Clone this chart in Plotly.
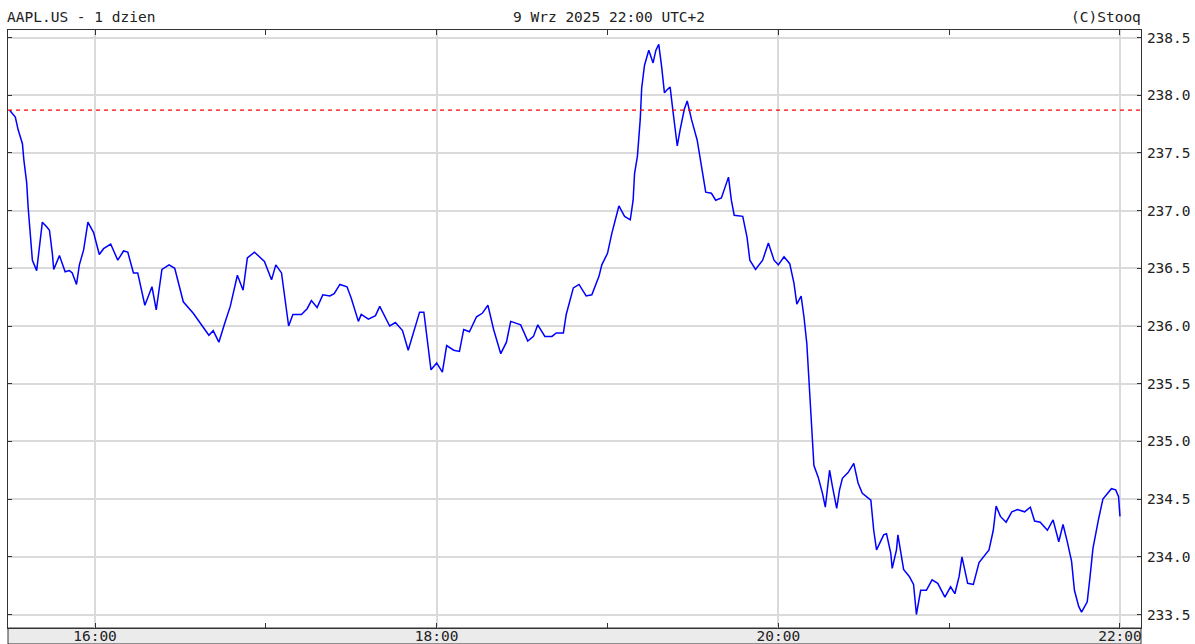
import plotly.graph_objects as go

date = "2025-09-09"
times = [
    "15:30:00", "15:32:00", "15:33:00", "15:34:30", "15:35:00", "15:36:00", "15:36:30", "15:37:00",
    "15:38:00", "15:39:00", "15:39:30", "15:40:30", "15:41:30", "15:43:00", "15:44:00", "15:45:00",
    "15:45:30", "15:47:30", "15:49:30", "15:51:00", "15:52:00", "15:53:30", "15:54:30", "15:56:00",
    "15:57:30", "15:59:30", "16:01:30", "16:03:00", "16:05:30", "16:08:00", "16:10:00", "16:11:30",
    "16:13:30", "16:15:00", "16:17:30", "16:20:00", "16:21:30", "16:23:30", "16:26:00", "16:28:00",
    "16:31:00", "16:34:30", "16:37:00", "16:40:00", "16:41:30", "16:43:30", "16:45:30", "16:47:30",
    "16:50:00", "16:52:00", "16:53:30", "16:56:00", "16:59:30", "17:02:00", "17:03:30", "17:05:30",
    "17:08:00", "17:09:30", "17:12:30", "17:14:30", "17:16:00", "17:18:00", "17:20:00", "17:22:30",
    "17:24:00", "17:26:00", "17:28:30", "17:30:00", "17:32:30", "17:33:30", "17:36:00", "17:38:30",
    "17:40:00", "17:43:30", "17:45:30", "17:48:00", "17:50:00", "17:52:00", "17:54:00", "17:55:30",
    "17:56:30", "17:58:00", "18:00:00", "18:02:00", "18:03:30", "18:06:00", "18:08:00", "18:09:30",
    "18:11:30", "18:14:00", "18:16:00", "18:18:00", "18:20:00", "18:22:30", "18:24:30", "18:26:00",
    "18:29:30", "18:32:00", "18:34:00", "18:35:30", "18:38:00", "18:40:30", "18:42:00", "18:44:30",
    "18:45:30", "18:48:00", "18:50:00", "18:52:30", "18:54:30", "18:57:00", "18:58:00", "19:00:00",
    "19:01:30", "19:02:30", "19:04:00", "19:06:00", "19:08:00", "19:09:00", "19:09:30", "19:10:30",
    "19:11:30", "19:12:00", "19:13:00", "19:14:30", "19:16:00", "19:17:00", "19:18:00", "19:19:00",
    "19:20:00", "19:21:00", "19:22:00", "19:23:00", "19:24:30", "19:25:30", "19:27:00", "19:28:00",
    "19:29:30", "19:31:30", "19:33:00", "19:34:30", "19:36:30", "19:38:00", "19:40:00", "19:42:30",
    "19:43:30", "19:44:30", "19:47:30", "19:49:00", "19:50:00", "19:52:00", "19:54:30", "19:56:30",
    "19:58:30", "20:00:00", "20:02:00", "20:04:00", "20:05:30", "20:06:30", "20:08:00", "20:09:00",
    "20:10:00", "20:11:00", "20:12:00", "20:12:30", "20:14:00", "20:15:30", "20:16:30", "20:18:00",
    "20:19:00", "20:20:30", "20:21:30", "20:22:30", "20:24:30", "20:26:30", "20:28:00", "20:29:30",
    "20:32:30", "20:33:30", "20:34:30", "20:37:00", "20:38:00", "20:39:30", "20:40:00", "20:41:30",
    "20:42:00", "20:44:00", "20:46:00", "20:47:30", "20:48:30", "20:50:00", "20:52:00", "20:54:00",
    "20:56:00", "20:58:30", "21:00:30", "21:02:00", "21:03:30", "21:04:30", "21:06:30", "21:08:30",
    "21:10:30", "21:12:00", "21:14:00", "21:15:30", "21:16:30", "21:18:00", "21:20:00", "21:22:00",
    "21:24:00", "21:26:30", "21:28:30", "21:30:00", "21:32:00", "21:34:30", "21:36:30", "21:38:30",
    "21:40:00", "21:41:30", "21:43:00", "21:44:00", "21:45:30", "21:46:30", "21:48:30", "21:49:30",
    "21:50:30", "21:52:30", "21:54:00", "21:57:00", "21:58:30", "21:59:30", "22:00:00",
]
prices = [
    237.87, 237.81, 237.70, 237.58, 237.44, 237.24, 237.03, 236.86,
    236.57, 236.51, 236.48, 236.69, 236.90, 236.86, 236.83, 236.63,
    236.49, 236.61, 236.47, 236.48, 236.46, 236.36, 236.53, 236.66,
    236.90, 236.81, 236.62, 236.67, 236.71, 236.57, 236.65, 236.64,
    236.46, 236.46, 236.18, 236.34, 236.14, 236.49, 236.53, 236.50,
    236.21, 236.11, 236.02, 235.92, 235.96, 235.86, 236.02, 236.17,
    236.44, 236.31, 236.59, 236.64, 236.56, 236.40, 236.53, 236.46,
    236.00, 236.10, 236.10, 236.15, 236.22, 236.16, 236.27, 236.26,
    236.28, 236.36, 236.34, 236.24, 236.04, 236.10, 236.06, 236.09,
    236.17, 236.00, 236.03, 235.96, 235.79, 235.95, 236.12, 236.12,
    235.91, 235.62, 235.68, 235.60, 235.83, 235.79, 235.78, 235.97,
    235.95, 236.08, 236.11, 236.18, 235.97, 235.76, 235.86, 236.04,
    236.01, 235.87, 235.91, 236.01, 235.91, 235.91, 235.94, 235.94,
    236.10, 236.33, 236.36, 236.26, 236.27, 236.43, 236.53, 236.63,
    236.80, 236.90, 237.04, 236.95, 236.92, 237.09, 237.32, 237.47,
    237.79, 238.06, 238.26, 238.39, 238.28, 238.39, 238.44, 238.25,
    238.02, 238.05, 238.07, 237.86, 237.56, 237.70, 237.88, 237.95,
    237.79, 237.61, 237.38, 237.16, 237.15, 237.09, 237.11, 237.29,
    237.09, 236.96, 236.95, 236.77, 236.57, 236.49, 236.57, 236.72,
    236.57, 236.53, 236.60, 236.54, 236.37, 236.19, 236.26, 236.08,
    235.85, 235.42, 234.95, 234.79, 234.69, 234.55, 234.43, 234.75,
    234.61, 234.42, 234.58, 234.68, 234.73, 234.81, 234.64, 234.55,
    234.49, 234.23, 234.06, 234.19, 234.20, 234.03, 233.90, 234.06,
    234.19, 233.89, 233.83, 233.76, 233.50, 233.71, 233.71, 233.80,
    233.77, 233.65, 233.74, 233.68, 233.83, 234.00, 233.77, 233.76,
    233.95, 234.00, 234.06, 234.23, 234.44, 234.35, 234.30, 234.39,
    234.41, 234.39, 234.43, 234.31, 234.30, 234.23, 234.32, 234.13,
    234.28, 234.13, 233.96, 233.71, 233.57, 233.52, 233.61, 233.83,
    234.07, 234.33, 234.50, 234.59, 234.58, 234.52, 234.35,
]
prev_close = 237.87
y_ticks = [233.5, 234.0, 234.5, 235.0, 235.5, 236.0, 236.5, 237.0, 237.5, 238.0, 238.5]
y_ticktext = [f"{v:.1f}" for v in y_ticks]
title_left = "AAPL.US - 1 dzien"
title_mid = "9 Wrz 2025 22:00 UTC+2"
title_right = "(C)Stooq"

FONT = "DejaVu Sans Mono"
FS = 14.5
TXT = "#222222"
FRAME = "#333333"
GRID = "#dadada"

W, H = 1195, 644
ML, MR, MT, MB = 8, 54, 30, 16
PW, PH = W - ML - MR, H - MT - MB

x = [f"{date} {t}" for t in times]

fig = go.Figure()
fig.add_trace(go.Scatter(x=x, y=prices, mode="lines",
                         line=dict(color="#0000ff", width=1.5),
                         hoverinfo="skip", showlegend=False))

# grey band under the plot for time labels
fig.add_shape(type="rect", xref="paper", yref="paper", x0=0, x1=1,
              y0=-MB / PH, y1=0, fillcolor="#ebebeb",
              line=dict(color=FRAME, width=1), layer="below")
# previous close
fig.add_shape(type="line", xref="paper", yref="y", x0=0, x1=1,
              y0=prev_close, y1=prev_close,
              line=dict(color="#ff0000", width=1.3, dash="4px,4px"))

fig.update_layout(
    width=W, height=H, autosize=False,
    margin=dict(l=ML, r=MR, t=MT, b=MB, pad=0, autoexpand=False),
    paper_bgcolor="white", plot_bgcolor="white",
    showlegend=False,
    font=dict(family=FONT, size=FS, color=TXT),
    xaxis=dict(
        type="date", automargin=False,
        range=[f"{date} 15:29:26", f"{date} 22:07:23"],
        tick0=f"{date} 16:00", dtick=7200000, tickformat="%H:%M",
        ticks="inside", ticklen=5, tickwidth=1, tickcolor=FRAME,
        showgrid=True, gridcolor=GRID, gridwidth=1.5,
        showline=True, linecolor=FRAME, linewidth=1, mirror="ticks",
        zeroline=False,
        minor=dict(tick0=f"{date} 16:00", dtick=3600000, ticks="inside",
                   ticklen=5, tickwidth=1, tickcolor=FRAME, showgrid=False),
        tickfont=dict(family=FONT, size=FS, color=TXT),
        ticklabelstandoff=-5,
        fixedrange=True,
    ),
    yaxis=dict(
        side="right", automargin=False,
        range=[233.383, 238.565],
        tickvals=y_ticks, ticktext=y_ticktext,
        ticks="inside", ticklen=4, tickwidth=1, tickcolor=FRAME,
        showgrid=True, gridcolor=GRID, gridwidth=1.5,
        showline=True, linecolor=FRAME, linewidth=1, mirror="ticks",
        zeroline=False,
        tickfont=dict(family=FONT, size=FS, color=TXT),
        ticklabelstandoff=2,
        fixedrange=True,
    ),
    annotations=[
        dict(text=title_left, xref="paper", yref="paper",
             x=-3 / PW, y=1 + (MT - 16.5) / PH, xanchor="left", yanchor="middle",
             showarrow=False, font=dict(family=FONT, size=FS, color=TXT)),
        dict(text=title_mid, xref="paper", yref="paper",
             x=(609 - ML) / PW, y=1 + (MT - 16.5) / PH, xanchor="center", yanchor="middle",
             showarrow=False, font=dict(family=FONT, size=FS, color=TXT)),
        dict(text=title_right, xref="paper", yref="paper",
             x=1 + 2 / PW, y=1 + (MT - 16.5) / PH, xanchor="right", yanchor="middle",
             showarrow=False, font=dict(family=FONT, size=FS, color=TXT)),
    ],
)

fig.write_html("out.html", config={"displayModeBar": False},
               post_script="document.body.style.margin='0';document.body.style.overflow='hidden';")
